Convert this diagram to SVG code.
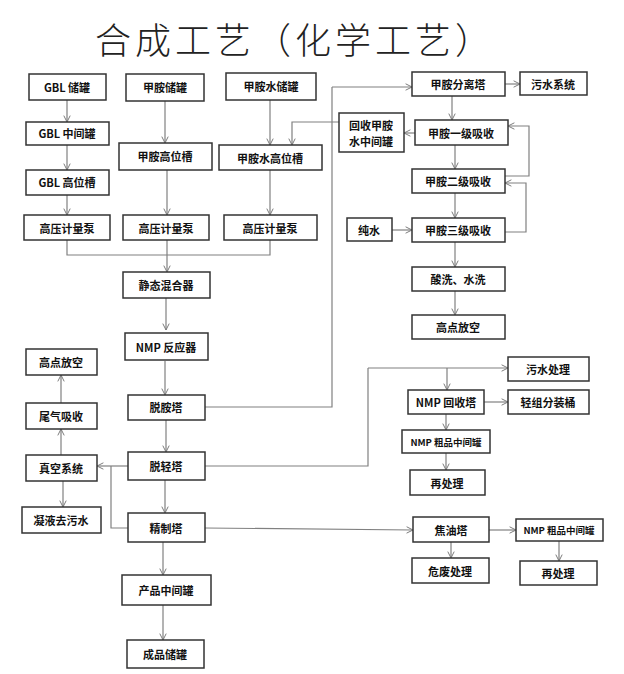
<svg xmlns="http://www.w3.org/2000/svg" width="624" height="674" viewBox="0 0 624 674">
<defs>
<marker id="a" viewBox="0 0 10 10" refX="9" refY="5" markerWidth="8" markerHeight="8" orient="auto" markerUnits="userSpaceOnUse"><path d="M1,1 L9,5 L1,9" fill="none" stroke="#777" stroke-width="1.2"/></marker>
<style>
rect{fill:#fff;stroke:#333;stroke-width:1.5}
text{font-family:"Noto Sans CJK SC","Liberation Sans",sans-serif;font-size:11px;font-weight:bold;fill:#111;text-anchor:middle;dominant-baseline:central}
.c path{fill:none;stroke:#808080;stroke-width:1.2}
.c .ar{marker-end:url(#a)}
</style>
</defs>
<rect width="624" height="674" style="fill:#fff;stroke:none"/>
<text x="295" y="38" style="font-size:36px;font-weight:300;letter-spacing:4px;fill:#222">合成工艺（化学工艺）</text>
<g class="c">
<path class="ar" d="M67,100V122"/>
<path class="ar" d="M67,145V170"/>
<path class="ar" d="M67,195V215"/>
<path class="ar" d="M165,101V143"/>
<path class="ar" d="M167,170V215"/>
<path class="ar" d="M270,100V145"/>
<path class="ar" d="M270,170V215"/>
<path d="M67,240V255H270V240"/>
<path d="M167,240V255"/>
<path class="ar" d="M167,255V272"/>
<path class="ar" d="M166,298V330"/>
<path class="ar" d="M165,361V395"/>
<path class="ar" d="M166,420V452"/>
<path class="ar" d="M165,480V513"/>
<path class="ar" d="M163,542V575"/>
<path class="ar" d="M163,605V640"/>
<path class="ar" d="M128,466H97"/>
<path d="M111,466V528H128"/>
<path class="ar" d="M61,403V375"/>
<path class="ar" d="M61,455V429"/>
<path class="ar" d="M63,481V507"/>
<path d="M205,407H332V87"/>
<path class="ar" d="M332,87H412"/>
<path class="ar" d="M505,84H520"/>
<path class="ar" d="M452,96V120"/>
<path class="ar" d="M415,133H404"/>
<path class="ar" d="M339,122H292V145"/>
<path class="ar" d="M455,145V169"/>
<path class="ar" d="M455,193V218"/>
<path class="ar" d="M392,230H412"/>
<path class="ar" d="M455,242V267"/>
<path class="ar" d="M455,291V315"/>
<path class="ar" d="M505,176H529V126H508"/>
<path class="ar" d="M505,232H526V183H505"/>
<path d="M205,466H368V368"/>
<path class="ar" d="M368,368H508"/>
<path class="ar" d="M447,368V390"/>
<path class="ar" d="M484,402H508"/>
<path class="ar" d="M446,414V430"/>
<path class="ar" d="M446,453V470"/>
<path class="ar" d="M205,528L413,530"/>
<path class="ar" d="M489,530H516"/>
<path class="ar" d="M451,542V558"/>
<path class="ar" d="M559,541V561"/>
</g>
<g id="n1"><rect x="29" y="74" width="77" height="26"/><text x="67" y="87">GBL 储罐</text></g>
<g id="n2"><rect x="26" y="122" width="83" height="23"/><text x="67" y="133">GBL 中间罐</text></g>
<g id="n3"><rect x="26" y="170" width="83" height="25"/><text x="67" y="182">GBL 高位槽</text></g>
<g id="n4"><rect x="24" y="215" width="86" height="25"/><text x="67" y="228">高压计量泵</text></g>
<g id="n5"><rect x="126" y="74" width="78" height="27"/><text x="165" y="87">甲胺储罐</text></g>
<g id="n6"><rect x="119" y="143" width="93" height="27"/><text x="165" y="156">甲胺高位槽</text></g>
<g id="n7"><rect x="123" y="215" width="86" height="25"/><text x="166" y="228">高压计量泵</text></g>
<g id="n8"><rect x="226" y="73" width="90" height="27"/><text x="271" y="86">甲胺水储罐</text></g>
<g id="n9"><rect x="219" y="145" width="103" height="25"/><text x="270" y="158">甲胺水高位槽</text></g>
<g id="n10"><rect x="224" y="215" width="93" height="25"/><text x="270" y="228">高压计量泵</text></g>
<g id="n11"><rect x="123" y="272" width="87" height="26"/><text x="166" y="285">静态混合器</text></g>
<g id="n12"><rect x="125" y="333" width="83" height="27"/><text x="166" y="347">NMP 反应器</text></g>
<g id="n13"><rect x="128" y="395" width="77" height="25"/><text x="166" y="407">脱胺塔</text></g>
<g id="n14"><rect x="128" y="452" width="77" height="28"/><text x="166" y="466">脱轻塔</text></g>
<g id="n15"><rect x="128" y="513" width="77" height="29"/><text x="166" y="528">精制塔</text></g>
<g id="n16"><rect x="122" y="575" width="89" height="30"/><text x="166" y="590">产品中间罐</text></g>
<g id="n17"><rect x="127" y="640" width="77" height="28"/><text x="165" y="654">成品储罐</text></g>
<g id="n18"><rect x="26" y="349" width="71" height="26"/><text x="61" y="362">高点放空</text></g>
<g id="n19"><rect x="26" y="403" width="71" height="26"/><text x="61" y="416">尾气吸收</text></g>
<g id="n20"><rect x="26" y="455" width="71" height="26"/><text x="61" y="468">真空系统</text></g>
<g id="n21"><rect x="22" y="507" width="79" height="26"/><text x="61" y="520">凝液去污水</text></g>
<g id="n22"><rect x="412" y="72" width="93" height="24"/><text x="458" y="84">甲胺分离塔</text></g>
<g id="n23"><rect x="520" y="72" width="67" height="23"/><text x="553" y="84">污水系统</text></g>
<g id="n24"><rect x="339" y="113" width="65" height="39"/><text x="371" y="125">回收甲胺</text><text x="371" y="141">水中间罐</text></g>
<g id="n25"><rect x="415" y="120" width="93" height="25"/><text x="461" y="133">甲胺一级吸收</text></g>
<g id="n26"><rect x="412" y="169" width="93" height="24"/><text x="458" y="181">甲胺二级吸收</text></g>
<g id="n27"><rect x="347" y="218" width="45" height="23"/><text x="369" y="230">纯水</text></g>
<g id="n28"><rect x="412" y="218" width="93" height="24"/><text x="458" y="230">甲胺三级吸收</text></g>
<g id="n29"><rect x="412" y="267" width="93" height="24"/><text x="458" y="279">酸洗、水洗</text></g>
<g id="n30"><rect x="412" y="315" width="93" height="24"/><text x="458" y="327">高点放空</text></g>
<g id="n31"><rect x="508" y="357" width="81" height="24"/><text x="548" y="369">污水处理</text></g>
<g id="n32"><rect x="408" y="390" width="76" height="24"/><text x="446" y="402">NMP 回收塔</text></g>
<g id="n33"><rect x="508" y="390" width="81" height="24"/><text x="548" y="402">轻组分装桶</text></g>
<g id="n34"><rect x="402" y="430" width="88" height="23"/><text x="446" y="442" style="font-size:9.5px">NMP 粗品中间罐</text></g>
<g id="n35"><rect x="410" y="470" width="75" height="25"/><text x="447" y="483">再处理</text></g>
<g id="n36"><rect x="413" y="517" width="76" height="25"/><text x="451" y="530">焦油塔</text></g>
<g id="n37"><rect x="516" y="519" width="87" height="22"/><text x="559" y="530" style="font-size:9.5px">NMP 粗品中间罐</text></g>
<g id="n38"><rect x="412" y="558" width="77" height="25"/><text x="450" y="571">危废处理</text></g>
<g id="n39"><rect x="520" y="561" width="77" height="24"/><text x="558" y="573">再处理</text></g>
</svg>
